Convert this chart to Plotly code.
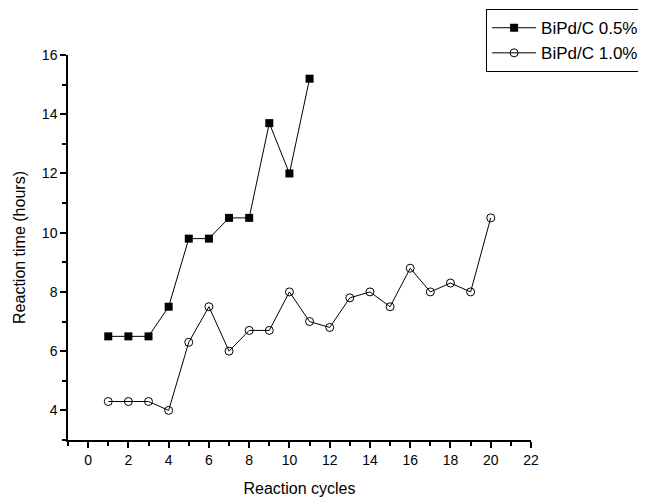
import plotly.graph_objects as go

cycles_a = [1, 2, 3, 4, 5, 6, 7, 8, 9, 10, 11]
time_a = [6.5, 6.5, 6.5, 7.5, 9.8, 9.8, 10.5, 10.5, 13.7, 12.0, 15.2]
cycles_b = list(range(1, 21))
time_b = [4.3, 4.3, 4.3, 4.0, 6.3, 7.5, 6.0, 6.7, 6.7, 8.0, 7.0, 6.8, 7.8, 8.0, 7.5, 8.8, 8.0, 8.3, 8.0, 10.5]
name_a = "BiPd/C 0.5%"
name_b = "BiPd/C 1.0%"
x_ticks = list(range(0, 23, 2))
y_ticks = list(range(4, 17, 2))

font = "Liberation Sans, Arial, sans-serif"

fig = go.Figure()
fig.add_trace(go.Scatter(x=cycles_a, y=time_a, name=name_a, mode="lines+markers",
                         line=dict(color="black", width=1),
                         marker=dict(symbol="square", size=8, color="black")))
fig.add_trace(go.Scatter(x=cycles_b, y=time_b, name=name_b, mode="lines+markers",
                         line=dict(color="black", width=1),
                         marker=dict(symbol="circle-open", size=8, color="black", line=dict(width=1))))

# page body adds an 8px offset, so the figure is slightly smaller
fig.update_layout(
    width=638, height=490,
    margin=dict(l=60, r=115, t=47, b=58, autoexpand=False),
    paper_bgcolor="white", plot_bgcolor="white",
    font=dict(family=font, size=14, color="black"),
    legend=dict(x=0.903, y=1.119, xanchor="left", yanchor="top",
                bordercolor="black", borderwidth=1, bgcolor="white",
                font=dict(size=17), tracegroupgap=0, itemwidth=44),
    xaxis=dict(range=[-1, 22], tickvals=x_ticks, showgrid=False, zeroline=False,
               showline=True, linecolor="black", linewidth=1.5, automargin=False,
               ticks="outside", ticklen=6, tickwidth=1.5, tickcolor="black",
               minor=dict(dtick=1, tick0=0, ticks="outside", ticklen=4, tickcolor="black", tickwidth=1.5),
               title=dict(text="Reaction cycles", font=dict(size=16), standoff=16)),
    yaxis=dict(range=[3, 16], tickvals=y_ticks, showgrid=False, zeroline=False,
               showline=True, linecolor="black", linewidth=1.5, automargin=False,
               ticks="outside", ticklen=6, tickwidth=1.5, tickcolor="black",
               minor=dict(dtick=1, tick0=0, ticks="outside", ticklen=4, tickcolor="black", tickwidth=1.5),
               title=dict(text="Reaction time (hours)", font=dict(size=16), standoff=12)),
)

fig.write_html("out.html")
